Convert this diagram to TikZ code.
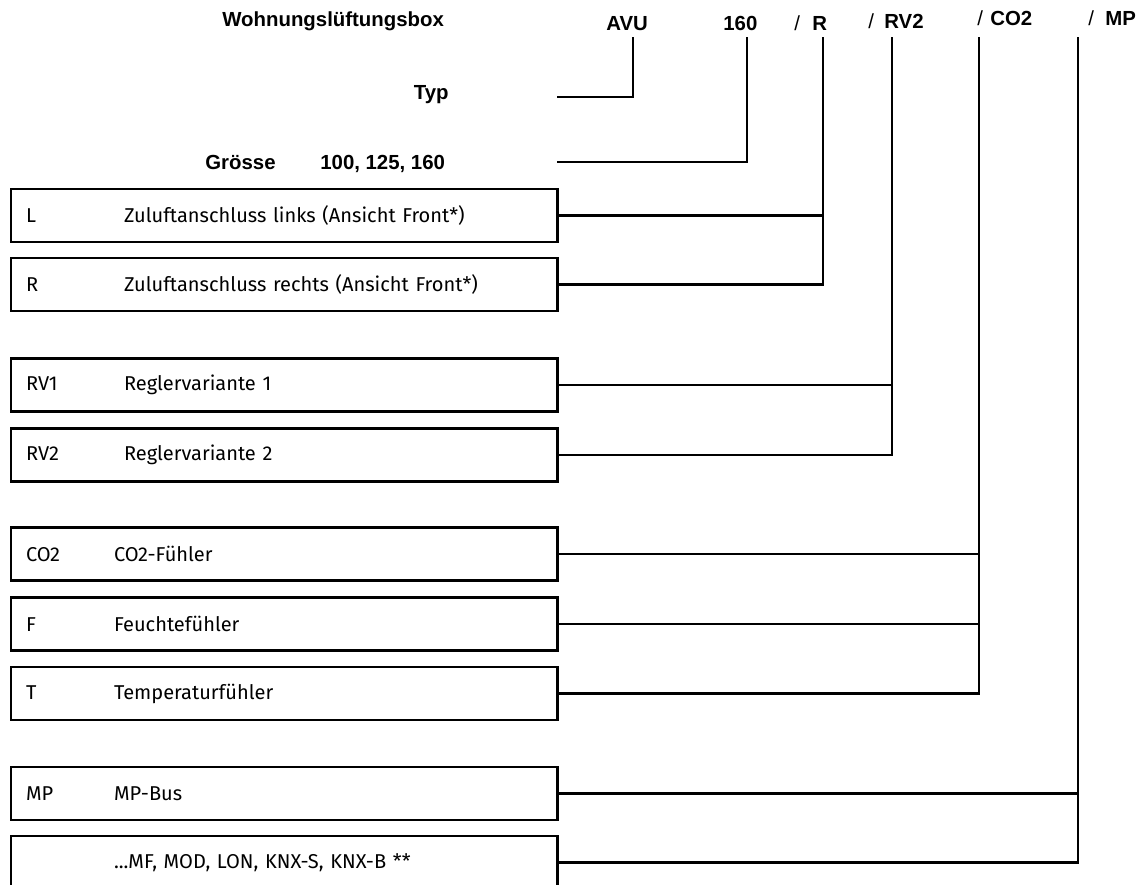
\documentclass[tikz,border=0pt]{standalone}
\usepackage{fontspec}
\setmainfont{Fira Sans}
\newfontfamily\hdfont{Liberation Sans}
\usetikzlibrary{positioning}
\tikzset{
  hd/.style={font=\hdfont\bfseries\fontsize{11.6}{14}\selectfont,inner sep=0pt,anchor=base west},
  slash/.style={font=\hdfont\fontsize{11.6}{14}\selectfont,inner sep=0pt,anchor=base west},
  codebox/.style={draw,line width=1.2pt,anchor=west,minimum height=1.06cm,text width=10.32cm,
    inner xsep=0.31cm,inner ysep=0pt,align=left,font=\fontsize{11.4}{13}\selectfont},
  conn/.style={line width=1.2pt}
}
\newcommand\codeA[1]{\makebox[1.96cm][l]{#1}}
\newcommand\codeB[1]{\makebox[1.76cm][l]{#1}}

\begin{document}
\begin{tikzpicture}[x=0.02cm,y=-0.02cm]
  \useasboundingbox (0,0) rectangle (1137,885);
  \clip (0,0) rectangle (1137,885);
  % header line
  \node[hd] (title) at (222,27) {Wohnungslüftungsbox};
  \node[hd] (hAVU) at (606,31) {AVU};
  \node[hd] (h160) at (723,31) {160};
  \node[slash] (s1) at (794,31) {/};
  \node[hd] (hR) at (812,31) {R};
  \node[slash] (s2) at (868,29) {/};
  \node[hd] (hRV) at (884,29) {RV2};
  \node[slash] (s3) at (977,26) {/};
  \node[hd] (hCO) at (990,26) {CO2};
  \node[slash] (s4) at (1088,26) {/};
  \node[hd] (hMP) at (1105,26) {MP};
  \node[hd,anchor=base east] (typ) at (449,100) {Typ};
  \node[hd] (groesse) at (205,170) {Grösse};
  \node[hd] (sizes) at (320,170) {100, 125, 160};
  % top ends of the verticals
  \coordinate (tAVU) at (633,37);
  \coordinate (t160) at (747,37);
  \coordinate (tR) at (823,37);
  \coordinate (tRV) at (892,37);
  \coordinate (tCO) at (979,37);
  \coordinate (tMP) at (1078,37);
  \coordinate (typ-in) at (557,97);
  \coordinate (gr-in) at (557,162);
  % boxes
  \node[codebox] (L) at (9.5,215.5) {\codeA{L}Zuluftanschluss links (Ansicht Front*)};
  \node[codebox] (R) at (9.5,284.5) {\codeA{R}Zuluftanschluss rechts (Ansicht Front*)};
  \node[codebox] (RV1) at (9.5,385) {\codeA{RV1}Reglervariante 1};
  \node[codebox] (RV2) at (9.5,455) {\codeA{RV2}Reglervariante 2};
  \node[codebox] (CO2) at (9.5,554) {\codeB{CO2}CO2-Fühler};
  \node[codebox] (F) at (9.5,624) {\codeB{F}Feuchtefühler};
  \node[codebox] (T) at (9.5,693.5) {\codeB{T}Temperaturfühler};
  \node[codebox] (MP) at (9.5,793.5) {\codeB{MP}MP-Bus};
  \node[codebox] (more) at (9.5,862.5) {\codeB{}...MF, MOD, LON, KNX-S, KNX-B **};
  % connectors
  \draw[conn] (typ-in) -| (tAVU);
  \draw[conn] (gr-in) -| (t160);
  \draw[conn] (L.east) -| (tR);
  \draw[conn] (R.east) -| (tR);
  \draw[conn] (RV1.east) -| (tRV);
  \draw[conn] (RV2.east) -| (tRV);
  \draw[conn] (CO2.east) -| (tCO);
  \draw[conn] (F.east) -| (tCO);
  \draw[conn] (T.east) -| (tCO);
  \draw[conn] (MP.east) -| (tMP);
  \draw[conn] (more.east) -| (tMP);
\end{tikzpicture}
\end{document}
